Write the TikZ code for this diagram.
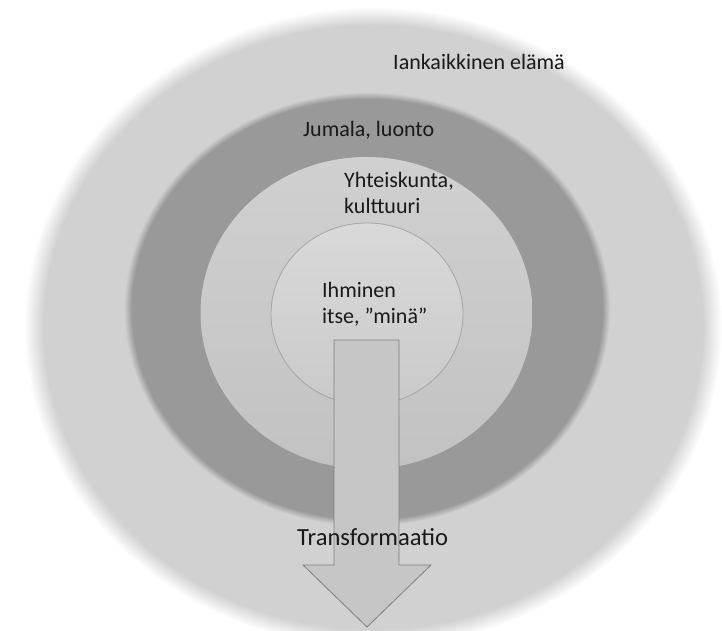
\documentclass[tikz,border=0pt]{standalone}
\usepackage{fontspec}
\setmainfont{Carlito}
\usetikzlibrary{shapes.geometric}

\definecolor{glowgray}{HTML}{D1D1D1}
\definecolor{ringdark}{HTML}{999999}
\definecolor{ringtop}{HTML}{D0D0D0}
\definecolor{ringbottom}{HTML}{C2C2C2}
\definecolor{selftop}{HTML}{D9D9D9}
\definecolor{selfbottom}{HTML}{CACACA}
\definecolor{arrowfill}{HTML}{C6C6C6}
\definecolor{arrowedge}{HTML}{7F7F7F}

\pgfdeclareradialshading{softglow}{\pgfpoint{0bp}{0bp}}{color(0bp)=(glowgray); color(23.6bp)=(glowgray); color(25bp)=(white); color(50bp)=(white)}
\pgfdeclareradialshading{softdark}{\pgfpoint{0bp}{0bp}}{color(0bp)=(ringdark); color(24.2bp)=(ringdark); color(25bp)=(glowgray); color(50bp)=(glowgray)}

\tikzset{
  ring/.style={ellipse, inner sep=0pt},
  ringtext/.style={anchor=base west, inner sep=0pt, align=left, text=black!90,
    font=\fontsize{22}{26}\selectfont},
}

\begin{document}
\begin{tikzpicture}[x=1pt, y=-1pt]
  \useasboundingbox (0,0) rectangle (722,631);
  \clip (0,0) rectangle (722,631);
  \node[ring, minimum width=698pt, minimum height=640pt, shade, shading=softglow] (life) at (373,327) {};
  \node[ring, minimum width=486pt, minimum height=434pt, shade, shading=softdark] (god) at (367,309) {};
  \node[ring, minimum width=332pt, minimum height=312pt, top color=ringtop, bottom color=ringbottom] (society) at (366.5,313) {};
  \node[ring, minimum width=192pt, minimum height=182pt, top color=selftop, bottom color=selfbottom, draw=arrowedge!70, line width=0.8pt] (self) at (367,314) {};
  \draw[fill=arrowfill, draw=arrowedge, line width=0.8pt, line join=miter]
    (334,340) -- (399,340) -- (399,565) -- (431,565) -- (367,627) -- (303,565) -- (334,565) -- cycle;
  \node[ringtext] (eternal) at (393,70) {Iankaikkinen elämä};
  \node[ringtext] (god-lbl) at (303,137) {Jumala, luonto};
  \node[ringtext] (society-lbl) at (344,213) {Yhteiskunta,\\kulttuuri};
  \node[ringtext] (self-lbl) at (322,323) {Ihminen\\itse, ”minä”};
  \node[ringtext, font=\fontsize{24.6}{28}\selectfont] (trans) at (297,545) {Transformaatio};
\end{tikzpicture}
\end{document}
